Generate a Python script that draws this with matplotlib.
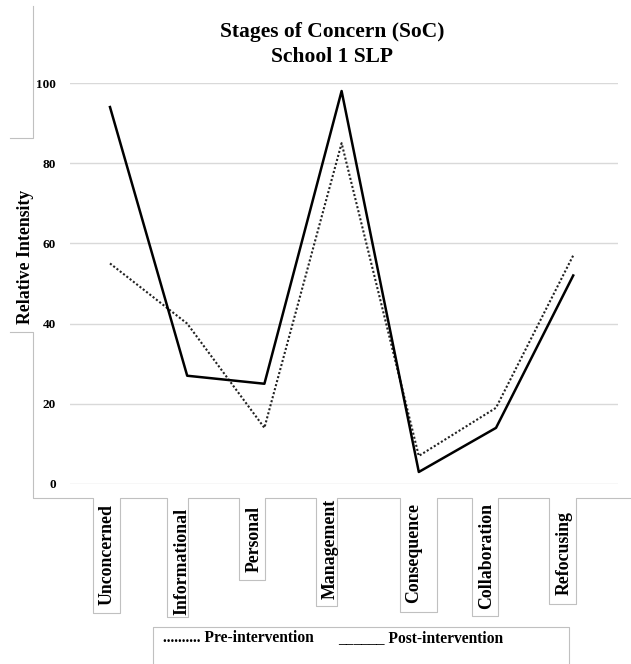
import numpy as np
import matplotlib
matplotlib.use('Agg')
from matplotlib import pyplot as plt
from matplotlib.lines import Line2D

# data
stages = ['Unconcerned', 'Informational', 'Personal', 'Management',
          'Consequence', 'Collaboration', 'Refocusing']
pre_intervention = [55, 40, 14, 85, 7, 19, 57]
post_intervention = [94, 27, 25, 98, 3, 14, 52]
y_ticks = [0, 20, 40, 60, 80, 100]

W, H = 631, 664
plt.rcParams['font.family'] = ['Liberation Serif', 'DejaVu Serif']
plt.rcParams['font.weight'] = 'bold'

fig = plt.figure(figsize=(W / 100, H / 100), dpi=100)


def px(x, y):
    # pixel position (from top-left) to figure fraction
    return x / W, 1 - y / H


# axes placed so that 0..100 spans pixel rows 484..83
x0, y_top = px(70, 83)
x1, y_bot = px(618, 484)
ax = fig.add_axes([x0, y_bot, x1 - x0, y_top - y_bot])
ax.set_ylim(0, 100)
ax.set_xlim(-0.518, 6.58)
for s in ax.spines.values():
    s.set_visible(False)
ax.set_xticks([])
ax.set_yticks(y_ticks)
ax.tick_params(axis='y', length=0, pad=10, labelsize=9.5)
for lab in ax.get_yticklabels():
    lab.set_fontweight('bold')
ax.grid(axis='y', color='#d9d9d9', linewidth=1)
ax.set_axisbelow(True)

x = np.arange(len(stages))
ax.plot(x, pre_intervention, color='#222222', linestyle=(0, (1, 1)), linewidth=1.5, clip_on=False)
ax.plot(x, post_intervention, color='black', linestyle='-', linewidth=1.8, clip_on=False)

# rotated category labels, each sitting in its own text box (pixel centres)
label_pos = [(107, 555), (182, 561), (254, 539), (330, 549),
             (414, 553), (487, 556), (564, 553)]
for name, (lx, ly) in zip(stages, label_pos):
    fig.text(*px(lx, ly), name, rotation=90, ha='center', va='center',
             fontsize=12.8, fontweight='bold')

fig.text(*px(25, 257), 'Relative Intensity', rotation=90, ha='center', va='center',
         fontsize=12.8, fontweight='bold')
fig.text(*px(332, 32), 'Stages of Concern (SoC)', ha='center', va='center',
         fontsize=15.5, fontweight='bold')
fig.text(*px(332, 57), 'School 1 SLP', ha='center', va='center',
         fontsize=15.5, fontweight='bold')

# legend written as text, as in the original
fig.text(*px(163, 638), '.......... Pre-intervention', ha='left', va='center',
         fontsize=11.2, fontweight='bold')
fig.text(*px(338, 638), '______ Post-intervention', ha='left', va='center',
         fontsize=11.2, fontweight='bold')

# grey outlines of the overlapping text boxes
frame_col = '#c0c0c0'
outlines = [
    [(33, 6), (33, 138), (10, 138)],
    [(10, 332), (33, 332), (33, 498), (93, 498), (93, 613), (120, 613), (120, 498),
     (167, 498), (167, 617), (188, 617), (188, 498), (239, 498), (239, 580),
     (265, 580), (265, 498), (316, 498), (316, 606), (337, 606), (337, 498),
     (400, 498), (400, 612), (437, 612), (437, 498), (472, 498), (472, 616),
     (498, 616), (498, 498), (549, 498), (549, 604), (576, 604), (576, 498), (631, 498)],
    [(153, 664), (153, 627), (569, 627), (569, 664)],
]
for pts in outlines:
    xs, ys = zip(*[px(a, b) for a, b in pts])
    fig.add_artist(Line2D(xs, ys, color=frame_col, linewidth=0.8, transform=fig.transFigure))

fig.savefig('out.png', dpi=100)
